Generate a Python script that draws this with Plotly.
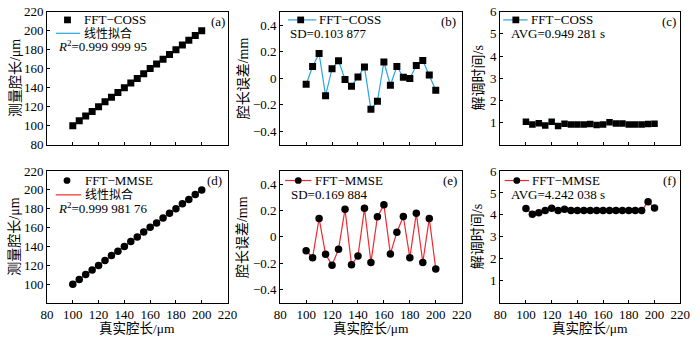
import numpy as np
import plotly.graph_objects as go

# ---- data -------------------------------------------------------------
true_len = [100, 105, 110, 115, 120, 125, 130, 135, 140, 145, 150,
            155, 160, 165, 170, 175, 180, 185, 190, 195, 200]

meas_coss = [99.955, 105.088, 110.186, 114.869, 120.072, 125.131, 129.990,
             134.940, 140.010, 145.084, 149.766, 154.826, 160.122, 164.947,
             170.088, 175.007, 179.998, 185.095, 190.134, 195.024, 199.909]
meas_mmse = [99.895, 104.843, 110.140, 114.869, 119.786, 124.907, 130.210,
             134.790, 139.855, 145.217, 149.807, 155.152, 160.243, 164.871,
             170.036, 175.155, 179.843, 185.179, 189.807, 195.140, 199.757]

err_coss = [-0.045, 0.088, 0.186, -0.131, 0.072, 0.131, -0.010, -0.060,
            0.010, 0.084, -0.234, -0.174, 0.122, -0.053, 0.088, 0.007,
            -0.002, 0.095, 0.134, 0.024, -0.091]
err_mmse = [-0.105, -0.157, 0.140, -0.131, -0.214, -0.093, 0.210, -0.210,
            -0.145, 0.217, -0.193, 0.152, 0.243, -0.129, 0.036, 0.155,
            -0.157, 0.179, -0.193, 0.140, -0.243]

time_coss = [1.04, 0.91, 0.97, 0.87, 1.04, 0.84, 0.94, 0.91, 0.91, 0.91,
             0.93, 0.89, 0.91, 1.01, 0.96, 0.96, 0.91, 0.91, 0.91, 0.93, 0.94]
time_mmse = [4.29, 4.03, 4.10, 4.20, 4.30, 4.20, 4.26, 4.20, 4.20, 4.20,
             4.20, 4.20, 4.20, 4.20, 4.20, 4.20, 4.20, 4.20, 4.20, 4.60, 4.31]

x_ticks = [80, 100, 120, 140, 160, 180, 200, 220]
len_ticks_top = [80, 100, 120, 140, 160, 180, 200, 220]
len_ticks_bottom = [100, 120, 140, 160, 180, 200, 220]
err_ticks = [-0.4, -0.2, 0, 0.2, 0.4]
err_tick_text = ["\u22120.4", "\u22120.2", "0", "0.2", "0.4"]
time_ticks = [1, 2, 3, 4, 5, 6]

r2_coss = "0.999 999 95"
r2_mmse = "0.999 981 76"
sd_coss = "0.103 877"
sd_mmse = "0.169 884"
avg_coss = "0.949 281"
avg_mmse = "4.242 038"

# ---- styling ----------------------------------------------------------
W, H = 700, 341
FONT = "Liberation Serif, Noto Sans CJK SC"
BLUE = "#27A6E2"
RED = "#EE2A30"
FS = 13
SQ = 7      # square marker size
CI = 7.5    # circle marker size

COL_X = [(41, 226), (280, 466), (505.5, 690)]
ROW_Y = [(5, 144), (171.5, 309.5)]


def px(x):
    return x / W


def py(y):
    return 1 - y / H


def axname(i, kind):
    return kind if i == 1 else f"{kind}{i}"


fig = go.Figure()

# linear fits
fit_c = np.polyfit(true_len, meas_coss, 1)
fit_m = np.polyfit(true_len, meas_mmse, 1)
fx = np.array([true_len[0], true_len[-1]])

# (a)
fig.add_trace(go.Scatter(x=fx, y=np.polyval(fit_c, fx), mode="lines",
                         line=dict(color=BLUE, width=1.2), xaxis="x", yaxis="y"))
fig.add_trace(go.Scatter(x=true_len, y=meas_coss, mode="markers",
                         marker=dict(symbol="square", size=SQ, color="black"),
                         xaxis="x", yaxis="y"))
# (b)
fig.add_trace(go.Scatter(x=true_len, y=err_coss, mode="lines+markers",
                         line=dict(color=BLUE, width=1.2),
                         marker=dict(symbol="square", size=SQ, color="black"),
                         xaxis="x2", yaxis="y2"))
# (c)
fig.add_trace(go.Scatter(x=true_len, y=time_coss, mode="lines+markers",
                         line=dict(color=BLUE, width=1.2),
                         marker=dict(symbol="square", size=SQ - 0.5, color="black"),
                         xaxis="x3", yaxis="y3"))
# (d)
fig.add_trace(go.Scatter(x=fx, y=np.polyval(fit_m, fx), mode="lines",
                         line=dict(color=RED, width=1.2), xaxis="x4", yaxis="y4"))
fig.add_trace(go.Scatter(x=true_len, y=meas_mmse, mode="markers",
                         marker=dict(symbol="circle", size=CI, color="black"),
                         xaxis="x4", yaxis="y4"))
# (e)
fig.add_trace(go.Scatter(x=true_len, y=err_mmse, mode="lines+markers",
                         line=dict(color=RED, width=1.2),
                         marker=dict(symbol="circle", size=CI, color="black"),
                         xaxis="x5", yaxis="y5"))
# (f)
fig.add_trace(go.Scatter(x=true_len, y=time_mmse, mode="lines+markers",
                         line=dict(color=RED, width=1.2),
                         marker=dict(symbol="circle", size=CI, color="black"),
                         xaxis="x6", yaxis="y6"))

base_axis = dict(showline=True, mirror=True, linecolor="black", linewidth=1,
                 ticks="inside", ticklen=3, tickwidth=1, tickcolor="black",
                 showgrid=False, zeroline=False,
                 tickfont=dict(family=FONT, size=FS, color="black"))

layout = {}
i = 0
for r in range(2):
    for c in range(3):
        i += 1
        x0, x1 = COL_X[c]
        y0, y1 = ROW_Y[r]
        xa = dict(base_axis, domain=[px(x0), px(x1)], range=[80, 220],
                  tickmode="array", tickvals=x_ticks, ticklabelstandoff=0,
                  showticklabels=(r == 1), anchor=axname(i, "y"))
        if c == 0:
            ya = dict(base_axis, range=[80, 220], tickmode="array",
                      tickvals=len_ticks_top if r == 0 else len_ticks_bottom)
        elif c == 1:
            ya = dict(base_axis, range=[-0.5, 0.5], tickmode="array",
                      tickvals=err_ticks, ticktext=err_tick_text)
        else:
            ya = dict(base_axis, range=[0, 6], tickmode="array",
                      tickvals=time_ticks)
        ya.update(domain=[py(y1), py(y0)], anchor=axname(i, "x"))
        layout[axname(i, "xaxis")] = xa
        layout[axname(i, "yaxis")] = ya

fig.update_layout(**layout)

shapes = []
annotations = []


def text(x, y, s, anchor="left", size=FS, angle=0):
    annotations.append(dict(x=px(x), y=py(y), xref="paper", yref="paper",
                            text=s, showarrow=False, xanchor=anchor,
                            yanchor="middle", textangle=angle,
                            font=dict(family=FONT, size=size, color="black")))


def seg(xa, xb, y, color):
    shapes.append(dict(type="line", xref="paper", yref="paper",
                       x0=px(xa), x1=px(xb), y0=py(y), y1=py(y),
                       line=dict(color=color, width=1.2)))


def mark(cx, cy, kind, s=7):
    shapes.append(dict(type="rect" if kind == "square" else "circle",
                       xref="paper", yref="paper",
                       x0=px(cx - s / 2), x1=px(cx + s / 2),
                       y0=py(cy + s / 2), y1=py(cy - s / 2),
                       fillcolor="black", line=dict(width=0)))


# legends and panel letters, offsets from each panel's top-left corner
# (a)
ox, oy = COL_X[0][0], ROW_Y[0][0]
mark(ox + 21, oy + 8.5, "square")
text(ox + 36, oy + 8.5, "FFT\u2212COSS")
seg(ox + 9, ox + 34, oy + 22.5, BLUE)
text(ox + 36, oy + 22.5, "线性拟合", size=12)
text(ox + 9, oy + 36, f"<i>R</i><sup>2</sup>={r2_coss}")
text(ox + 175, oy + 10, "(a)", anchor="center")
# (b)
ox, oy = COL_X[1][0], ROW_Y[0][0]
seg(ox + 8, ox + 37, oy + 8.5, BLUE)
mark(ox + 21, oy + 8.5, "square")
text(ox + 37.5, oy + 8.5, "FFT\u2212COSS")
text(ox + 8.5, oy + 22.5, f"SD={sd_coss}")
text(ox + 173, oy + 10, "(b)", anchor="center")
# (c)
ox, oy = COL_X[2][0], ROW_Y[0][0]
seg(ox + 3, ox + 28, oy + 8.5, BLUE)
mark(ox + 16, oy + 8.5, "square")
text(ox + 30, oy + 8.5, "FFT\u2212COSS")
text(ox + 9, oy + 22.5, f"AVG={avg_coss} s")
text(ox + 173, oy + 10, "(c)", anchor="center")
# (d)
ox, oy = COL_X[0][0], ROW_Y[1][0]
mark(ox + 20.5, oy + 10, "circle")
text(ox + 37, oy + 10, "FFT\u2212MMSE")
seg(ox + 9, ox + 35, oy + 25, RED)
text(ox + 36.5, oy + 25, "线性拟合", size=12)
text(ox + 9, oy + 38.5, f"<i>R</i><sup>2</sup>={r2_mmse}")
text(ox + 172, oy + 10, "(d)", anchor="center")
# (e)
ox, oy = COL_X[1][0], ROW_Y[1][0]
seg(ox + 5, ox + 32, oy + 10, RED)
mark(ox + 18.5, oy + 10, "circle")
text(ox + 33.5, oy + 10, "FFT\u2212MMSE")
text(ox + 9.5, oy + 24.5, f"SD={sd_mmse}")
text(ox + 174, oy + 10, "(e)", anchor="center")
# (f)
ox, oy = COL_X[2][0], ROW_Y[1][0]
seg(ox + 4.5, ox + 29.5, oy + 10, RED)
mark(ox + 17, oy + 10, "circle")
text(ox + 30.5, oy + 10, "FFT\u2212MMSE")
text(ox + 9, oy + 24.5, f"AVG={avg_mmse} s")
text(ox + 173, oy + 10, "(f)", anchor="center")

# axis titles
y_titles = ["测量腔长/μm", "腔长误差/mm", "解调时间/s"]
y_title_x = [8, 242, 483]
for r in range(2):
    cy = sum(ROW_Y[r]) / 2
    for c in range(3):
        text(y_title_x[c], cy, y_titles[c], anchor="center", size=14, angle=-90)
for c in range(3):
    text(sum(COL_X[c]) / 2, 336.5, "真实腔长/μm", anchor="center", size=13.5)

fig.update_layout(width=W, height=H, margin=dict(l=0, r=0, t=0, b=0),
                  paper_bgcolor="white", plot_bgcolor="white",
                  showlegend=False, shapes=shapes, annotations=annotations,
                  font=dict(family=FONT, size=FS, color="black"))

fig.write_html("out.html")
